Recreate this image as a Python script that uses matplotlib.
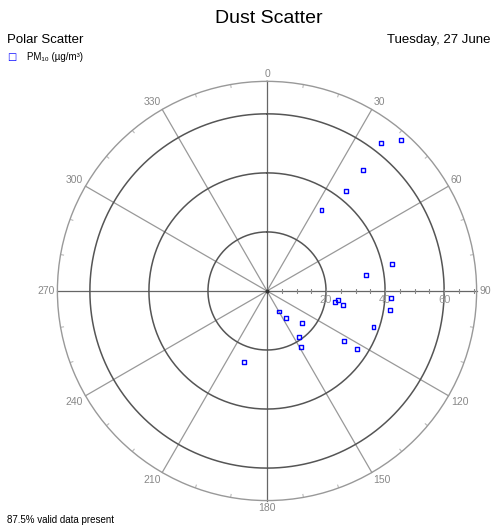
import numpy as np
import matplotlib
matplotlib.use("Agg")
import matplotlib.pyplot as plt

plt.rcParams['font.family'] = ['Liberation Sans', 'DejaVu Sans']

# wind direction (degrees) and PM10 concentration (ug/m3)
wind_dir = [37.5, 41.6, 38.4, 38.4, 33.9, 77.9, 81.0, 97.3, 99.5, 100.4, 93.1,
            98.9, 108.8, 150.4, 145.3, 132.7, 145.2, 148.5, 123.2, 122.9, 198.0]
pm10 = [63.3, 68.3, 52.2, 43.1, 33.1, 43.2, 34.1, 24.1, 23.2, 26.2, 42.0,
        42.1, 38.1, 8.0, 11.1, 16.1, 19.0, 22.1, 31.2, 36.2, 25.2]
ring_values = [20, 40, 60]
angles = list(range(0, 360, 30))
angle_labels = [str(a) for a in angles]
r_max = 71

fig = plt.figure(figsize=(4.94, 5.31), dpi=100)
ax = fig.add_axes([0.1162, 0.0573, 0.8486, 0.7895], projection='polar')
ax.set_theta_zero_location('N')
ax.set_theta_direction(-1)
ax.set_ylim(0, r_max)
ax.grid(False)
ax.set_xticks([])
ax.set_yticks([])

# spokes every 30 degrees
for a in angles:
    col = '#666666' if a % 90 == 0 else '#999999'
    ax.plot([np.radians(a)] * 2, [0, r_max], color=col, lw=0.9, zorder=1,
            clip_on=False)

# small ticks on the outer circle every 10 degrees
for a in range(0, 360, 10):
    if a % 30:
        ax.plot([np.radians(a)] * 2, [r_max - 1.0, r_max], color='#bbbbbb',
                lw=0.8, zorder=1)

# rings
th = np.linspace(0, 2 * np.pi, 361)
for rv in ring_values:
    ax.plot(th, [rv] * len(th), color='#555555', lw=1.1, zorder=1)
ax.spines['polar'].set_color('#999999')
ax.spines['polar'].set_linewidth(1.0)

# small ticks along the 90 degree axis
tick_r = np.arange(5, r_max, 5)
ax.plot([np.radians(90)] * len(tick_r), tick_r, ls='none', marker='|',
        color='#888888', ms=3, mew=0.8, zorder=1)
ax.plot([0], [0], 'o', color='#333333', ms=2, zorder=2)

for rv in ring_values:
    ax.annotate(str(rv), (np.radians(90), rv), xytext=(0, -3),
                textcoords='offset points', ha='center', va='top',
                fontsize=8, color='#999999')

# angle labels sitting just outside the outer circle
for a, lab in zip(angles, angle_labels):
    s, c = np.sin(np.radians(a)), np.cos(np.radians(a))
    ha = 'center' if abs(s) < 0.1 else ('left' if s > 0 else 'right')
    va = 'center' if abs(c) < 0.1 else ('bottom' if c > 0 else 'top')
    ax.annotate(lab, (np.radians(a), r_max), xytext=(2 * s, 2 * c),
                textcoords='offset points', ha=ha, va=va,
                fontsize=7.5, color='#888888', annotation_clip=False)

ax.scatter(np.radians(wind_dir), pm10, marker='s', s=8, facecolors='none',
           edgecolors='#0000ff', linewidths=1.0, zorder=3)

fig.text(0.545, 0.965, 'Dust Scatter', ha='center', va='center', fontsize=14)
fig.text(0.014, 0.925, 'Polar Scatter', ha='left', va='center', fontsize=9.5)
fig.text(0.992, 0.925, 'Tuesday, 27 June', ha='right', va='center', fontsize=9.5)
fig.text(0.024, 0.892, '\u25a1', ha='center', va='center', fontsize=7, color='#0000ff',
         family=['DejaVu Sans'])
fig.text(0.055, 0.893, 'PM\u2081\u2080 (\u00b5g/m\u00b3)', ha='left', va='center', fontsize=7)
fig.text(0.014, 0.02, '87.5% valid data present', ha='left', va='center', fontsize=7)

fig.savefig('out.png', dpi=100)
